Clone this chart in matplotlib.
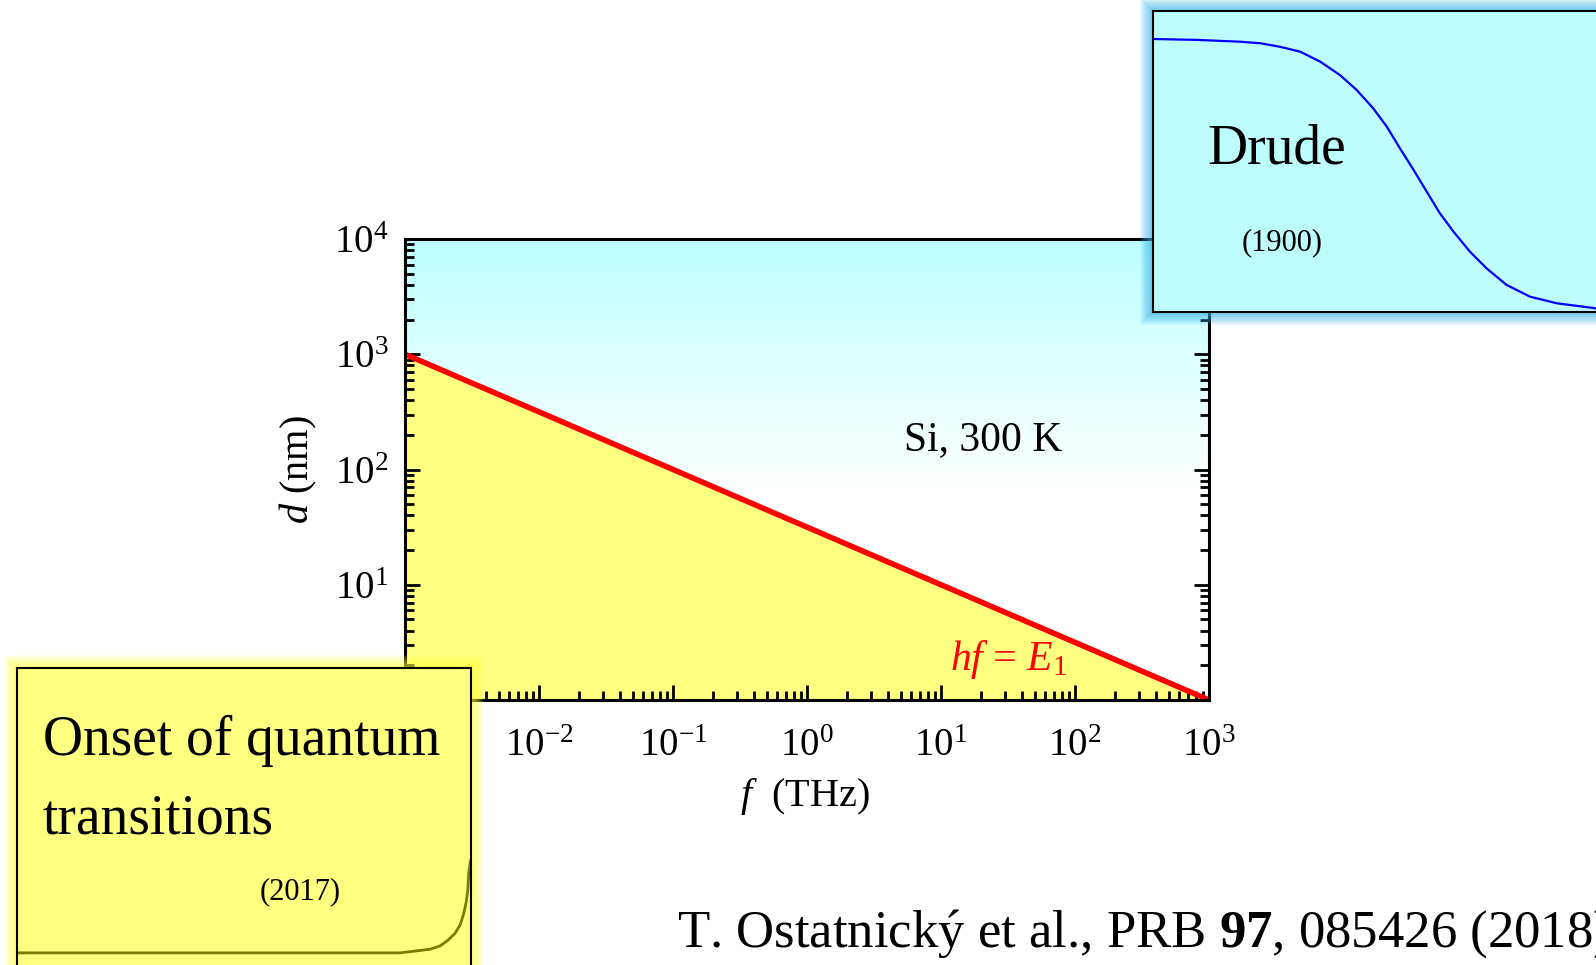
import matplotlib.pyplot as plt
import numpy as np
from matplotlib.patches import Rectangle
from matplotlib.colors import LinearSegmentedColormap
from matplotlib.ticker import LogLocator, LogFormatterSciNotation, NullFormatter

plt.rcParams['font.family'] = 'Liberation Serif'
plt.rcParams['mathtext.fontset'] = 'custom'
plt.rcParams['mathtext.rm'] = 'Liberation Serif'
plt.rcParams['mathtext.it'] = 'Liberation Serif:italic'
plt.rcParams['mathtext.bf'] = 'Liberation Serif:bold'

W, H = 1596, 965

# hf = E1 boundary: film thickness vs frequency
freq_thz = [1e-3, 1e3]
thickness_nm = [1e3, 1.0]

x_ticks = [1e-3, 1e-2, 1e-1, 1e0, 1e1, 1e2, 1e3]
y_ticks = [1e0, 1e1, 1e2, 1e3, 1e4]

# Drude conductivity sketch (normalised box coordinates)
drude_x = [0.0, 0.090, 0.164, 0.179, 0.220, 0.261, 0.302, 0.343, 0.384, 0.418,
           0.452, 0.480, 0.507, 0.535, 0.562, 0.589, 0.617, 0.651, 0.685,
           0.726, 0.774, 0.829, 0.910, 1.0]
drude_y = [0.907, 0.904, 0.899, 0.898, 0.893, 0.881, 0.865, 0.832, 0.787, 0.738,
           0.677, 0.616, 0.544, 0.472, 0.400, 0.328, 0.267, 0.200, 0.145,
           0.090, 0.051, 0.029, 0.012, 0.006]

# onset of quantum transitions sketch (normalised box coordinates)
onset_x = [0.0, 0.403, 0.844, 0.880, 0.910, 0.932, 0.950, 0.965, 0.976, 0.983,
           0.989, 0.993, 0.995, 0.999]
onset_y = [0.142, 0.142, 0.142, 0.148, 0.153, 0.163, 0.181, 0.201, 0.226, 0.256,
           0.291, 0.331, 0.382, 0.420]


def px_rect(x0, y0, x1, y1):
    # pixel box (top-left origin) -> figure fraction [l, b, w, h]
    return [x0 / W, (H - y1) / H, (x1 - x0) / W, (y1 - y0) / H]


def glow(fig, x0, y0, x1, y1, color, width=13, alpha=0.08):
    for k in range(width, 0, -1):
        l, b, w, h = px_rect(x0 - k, y0 - k, x1 + k, y1 + k)
        fig.add_artist(Rectangle((l, b), w, h, transform=fig.transFigure,
                                 facecolor=color, edgecolor='none',
                                 alpha=alpha, zorder=1))


fig = plt.figure(figsize=(W / 100, H / 100), dpi=100)
main_pos = px_rect(405, 239, 1209, 700)

# background: cyan fading to white towards the middle
bg = fig.add_axes(main_pos, zorder=-1)
t = np.clip((np.linspace(1, 0, 256) - 0.45) / 0.55, 0, 1)[:, None]
cmap = LinearSegmentedColormap.from_list('cy', ['white', (0.74, 1.0, 1.0)])
bg.imshow(t, cmap=cmap, aspect='auto', extent=[0, 1, 0, 1], vmin=0, vmax=1)
bg.axis('off')

ax = fig.add_axes(main_pos, zorder=0)
ax.set_facecolor('none')
ax.set_xscale('log')
ax.set_yscale('log')
ax.fill_between(freq_thz, thickness_nm, 1.0, color='#ffff80', lw=0, zorder=1)
ax.plot(freq_thz, thickness_nm, color='#ff0000', lw=4, solid_capstyle='butt', zorder=2)
ax.set_xlim(1e-3, 1e3)
ax.set_ylim(1, 1e4)

ax.xaxis.set_minor_locator(LogLocator(base=10, subs=np.arange(2, 10)))
ax.yaxis.set_minor_locator(LogLocator(base=10, subs=np.arange(2, 10)))
ax.set_xticks(x_ticks)
ax.set_yticks(y_ticks)
ax.xaxis.set_major_formatter(LogFormatterSciNotation())
ax.yaxis.set_major_formatter(LogFormatterSciNotation())
ax.xaxis.set_minor_formatter(NullFormatter())
ax.yaxis.set_minor_formatter(NullFormatter())

ax.tick_params(which='both', direction='in', left=True, right=True,
               top=False, bottom=True, width=2)
ax.tick_params(which='major', length=11, labelsize=28)
ax.tick_params(which='minor', length=6.5)
ax.tick_params(axis='x', which='major', pad=20)
ax.tick_params(axis='y', which='major', pad=12)
for s in ax.spines.values():
    s.set_linewidth(2.2)

# the lowest labels sit underneath the inset box
ax.xaxis.get_major_ticks()[0].label1.set_visible(False)
ax.yaxis.get_major_ticks()[0].label1.set_visible(False)

ax.set_xlabel('$f$  (THz)', fontsize=29, va='center')
ax.xaxis.set_label_coords(0.497, -0.21)
ax.set_ylabel('$d$ (nm)', fontsize=29, va='center')
ax.yaxis.set_label_coords(-0.133, 0.5)

ax.text(0.719, 0.564, 'Si, 300 K', transform=ax.transAxes, fontsize=30,
        ha='center', va='center')
ax.text(0.75, 0.087, '$hf$ = $E_1$', transform=ax.transAxes, fontsize=30,
        color='#ff0000', ha='center', va='center', zorder=3)

# Drude box, upper right
glow(fig, 1153, 11, 1640, 312, '#3cb4ee')
dru = fig.add_axes(px_rect(1153, 11, 1640, 312), zorder=2)
dru.set_facecolor('#bdfdfd')
dru.plot(drude_x, drude_y, color='#0000ff', lw=1.6)
dru.set_xlim(0, 1)
dru.set_ylim(0, 1)
dru.set_xticks([])
dru.set_yticks([])
for s in dru.spines.values():
    s.set_linewidth(1.5)
dru.text(0.255, 0.495, 'Drude', fontsize=40, ha='center', va='baseline')
dru.text(0.265, 0.229, '(1900)', fontsize=22, ha='center', va='center')

# quantum transitions box, lower left
glow(fig, 17, 668, 471, 1000, '#ffff40')
qua = fig.add_axes(px_rect(17, 668, 471, 1000), zorder=2)
qua.set_facecolor('#ffff80')
qua.plot(onset_x, onset_y, color='#7a7a00', lw=2)
qua.set_xlim(0, 1)
qua.set_ylim(0, 1)
qua.set_xticks([])
qua.set_yticks([])
for s in qua.spines.values():
    s.set_linewidth(1.5)
qua.text(0.057, 0.738, 'Onset of quantum', fontsize=40, ha='left', va='baseline')
qua.text(0.057, 0.503, 'transitions', fontsize=40, ha='left', va='baseline')
qua.text(0.623, 0.325, '(2017)', fontsize=22, ha='center', va='center')

fig.text(677 / W, (H - 947) / H,
         r'T. Ostatnický et al., PRB $\mathbf{97}$, 085426 (2018)',
         fontsize=38, ha='left', va='baseline', zorder=3)

fig.savefig('out.png', dpi=100)
